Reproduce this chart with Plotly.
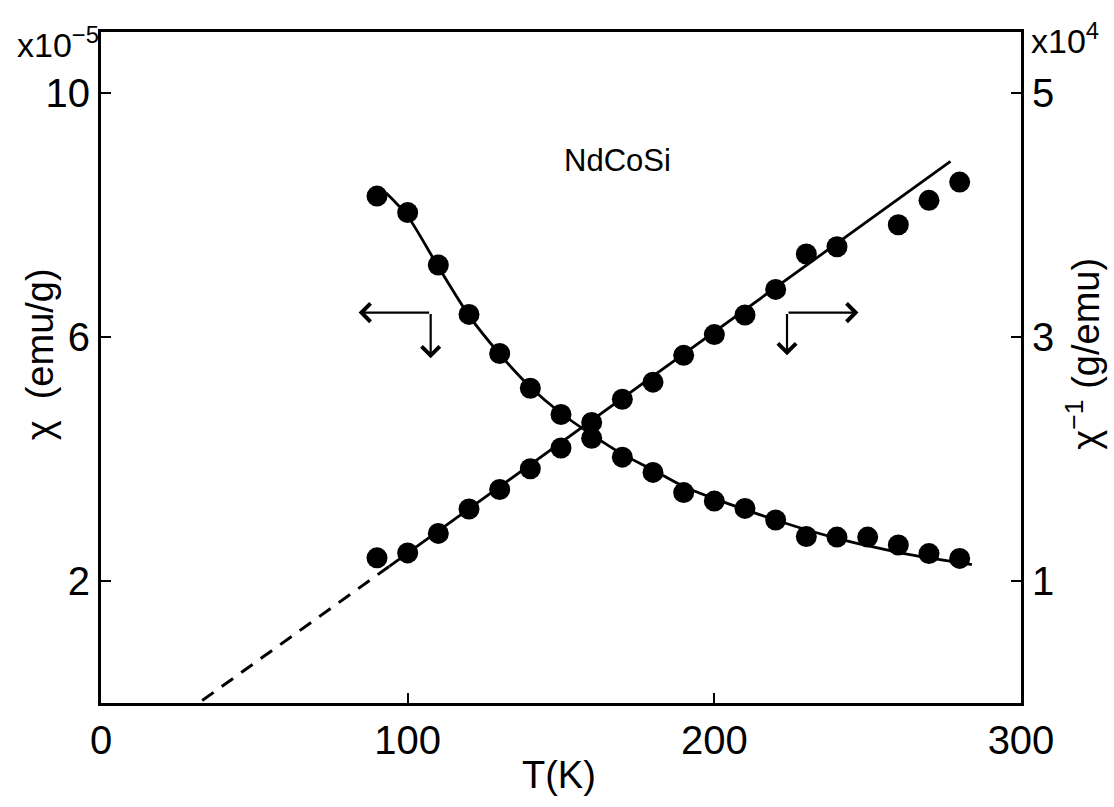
import plotly.graph_objects as go

# Measured susceptibility chi (x10^-5 emu/g), left axis
T_chi = [90, 100, 110, 120, 130, 140, 150, 160, 170, 180,
         190, 200, 210, 220, 230, 240, 250, 260, 270, 280]
chi = [8.31, 8.04, 7.18, 6.37, 5.73, 5.16, 4.73, 4.34, 4.03, 3.78,
       3.45, 3.31, 3.19, 3.00, 2.73, 2.72, 2.72, 2.59, 2.45, 2.37]

# Inverse susceptibility chi^-1 (x10^4 g/emu), right axis
T_inv = [90, 100, 110, 120, 130, 140, 150, 160, 170, 180,
         190, 200, 210, 220, 230, 240, 260, 270, 280]
chi_inv = [1.19, 1.23, 1.39, 1.59, 1.75, 1.92, 2.09, 2.30, 2.49, 2.63,
           2.85, 3.02, 3.18, 3.39, 3.68, 3.74, 3.92, 4.12, 4.27]

# Fitted curve for chi
T_chi_fit = [93, 100, 110, 120, 130, 140, 150, 160, 170, 180,
             190, 200, 210, 220, 230, 240, 250, 260, 270, 280, 284]
chi_fit = [8.36, 7.98, 7.15, 6.35, 5.72, 5.18, 4.75, 4.40, 4.08, 3.82,
           3.55, 3.35, 3.17, 3.00, 2.84, 2.70, 2.58, 2.47, 2.38, 2.30, 2.27]

# Linear fit for chi^-1 (solid) and its extrapolation (dashed)
T_inv_fit = [94, 277]
inv_fit = [1.12, 4.44]
T_inv_ext = [33, 94]
inv_ext = [0.02, 1.12]

FONT = "Liberation Sans"
BLACK = "black"

fig = go.Figure()

fig.add_trace(go.Scatter(x=T_chi_fit, y=chi_fit, mode="lines",
                         line=dict(color=BLACK, width=2.8, shape="spline", smoothing=0.8),
                         showlegend=False, hoverinfo="skip"))
fig.add_trace(go.Scatter(x=T_chi, y=chi, mode="markers",
                         marker=dict(color=BLACK, size=21), showlegend=False))

fig.add_trace(go.Scatter(x=T_inv_fit, y=inv_fit, mode="lines", yaxis="y2",
                         line=dict(color=BLACK, width=2.8),
                         showlegend=False, hoverinfo="skip"))
fig.add_trace(go.Scatter(x=T_inv_ext, y=inv_ext, mode="lines", yaxis="y2",
                         line=dict(color=BLACK, width=3, dash="14px,10px"),
                         showlegend=False, hoverinfo="skip"))
fig.add_trace(go.Scatter(x=T_inv, y=chi_inv, mode="markers", yaxis="y2",
                         marker=dict(color=BLACK, size=21), showlegend=False))

tickfont = dict(family=FONT, size=40, color=BLACK)

fig.update_layout(
    width=1114, height=807,
    margin=dict(l=101, r=93, t=32, b=104),
    paper_bgcolor="white", plot_bgcolor="white",
    font=dict(family=FONT, color=BLACK),
    xaxis=dict(range=[0, 300], tickvals=[0, 100, 200, 300],
               ticks="inside", ticklen=10, tickwidth=2, tickcolor=BLACK,
               showline=True, linecolor=BLACK, linewidth=3, mirror=True,
               showgrid=False, zeroline=False, tickfont=tickfont,
               ticklabelstandoff=0),
    yaxis=dict(range=[0, 11], tickvals=[2, 6, 10],
               ticks="inside", ticklen=10, tickwidth=2, tickcolor=BLACK,
               showline=True, linecolor=BLACK, linewidth=3,
               showgrid=False, zeroline=False, tickfont=tickfont),
    yaxis2=dict(range=[0, 5.5], tickvals=[1, 3, 5], overlaying="y", side="right",
                ticks="inside", ticklen=10, tickwidth=2, tickcolor=BLACK,
                showline=True, linecolor=BLACK, linewidth=3,
                showgrid=False, zeroline=False, tickfont=tickfont),
)

ann_font = dict(family=FONT, size=38, color=BLACK)
annotations = [
    dict(text="T(K)", xref="paper", yref="paper", x=0.498, y=-0.107,
         showarrow=False, font=ann_font, xanchor="center", yanchor="middle"),
    dict(text="χ  (emu/g)", xref="paper", yref="paper", x=-0.066, y=0.52,
         showarrow=False, font=ann_font, textangle=-90,
         xanchor="center", yanchor="middle"),
    dict(text="χ<sup>−1</sup> (g/emu)", xref="paper", yref="paper", x=1.068, y=0.52,
         showarrow=False, font=ann_font, textangle=-90,
         xanchor="center", yanchor="middle"),
    dict(text="x10<sup>−5</sup>", xref="paper", yref="paper", x=-0.047, y=0.985,
         showarrow=False, font=dict(family=FONT, size=34, color=BLACK),
         xanchor="center", yanchor="middle"),
    dict(text="x10<sup>4</sup>", xref="paper", yref="paper", x=1.048, y=0.99,
         showarrow=False, font=dict(family=FONT, size=34, color=BLACK),
         xanchor="center", yanchor="middle"),
    dict(text="NdCoSi", xref="paper", yref="paper", x=0.561, y=0.809,
         showarrow=False, font=dict(family=FONT, size=31, color=BLACK),
         xanchor="center", yanchor="middle"),
]

# Direction arrows (left -> chi axis, right -> chi^-1 axis)
arrow_style = dict(showarrow=True, arrowhead=4, arrowsize=1.6, arrowwidth=2.2,
                   arrowcolor=BLACK, text="", xref="x", yref="y",
                   axref="x", ayref="y")
annotations += [
    dict(x=84, y=6.4, ax=107.5, ay=6.4, **arrow_style),
    dict(x=107.5, y=5.65, ax=107.5, ay=6.4, **arrow_style),
    dict(x=247, y=6.4, ax=223.7, ay=6.4, **arrow_style),
    dict(x=223.7, y=5.7, ax=223.7, ay=6.4, **arrow_style),
]
fig.update_layout(annotations=annotations)

fig.write_html("out.html")
